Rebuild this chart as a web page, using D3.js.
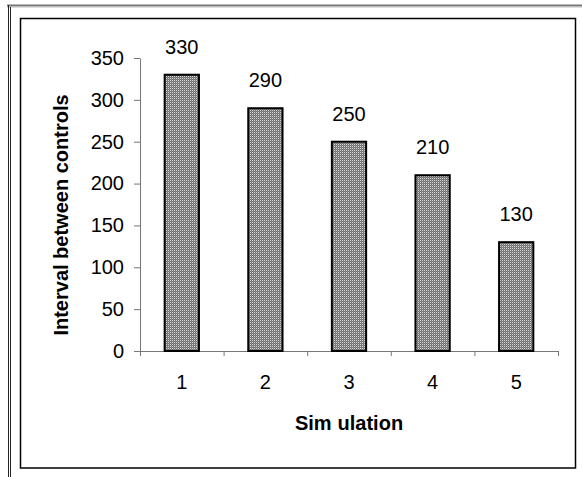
<!DOCTYPE html>
<html>
<head>
<meta charset="utf-8">
<script src="https://cdn.jsdelivr.net/npm/d3@7"></script>
<style>
  body { margin: 0; background: #fff; }
  svg { display: block; font-family: "Liberation Sans", Arial, sans-serif; }
</style>
</head>
<body>
<svg width="582" height="477"></svg>
<script>
let categories = ["1", "2", "3", "4", "5"];
let values = [330, 290, 250, 210, 130];
let yTicks = [0, 50, 100, 150, 200, 250, 300, 350];

let svg = d3.select('svg');
let width = +svg.attr('width');
let height = +svg.attr('height');
let margin = { top: 58, bottom: 126, left: 140, right: 24 };

// outer frame (double lines, like the pasted figure)
svg.append("line").attr("x1", 7).attr("x2", width).attr("y1", 5.5).attr("y2", 5.5)
    .attr("stroke", "#777").attr("stroke-width", 2);
svg.append("line").attr("x1", 7).attr("x2", width).attr("y1", 7).attr("y2", 7)
    .attr("stroke", "#bbb").attr("stroke-width", 1);
svg.append("line").attr("x1", 8.5).attr("x2", 8.5).attr("y1", 5).attr("y2", height)
    .attr("stroke", "#222").attr("stroke-width", 1);
svg.append("line").attr("x1", 10.5).attr("x2", 10.5).attr("y1", 7).attr("y2", height)
    .attr("stroke", "#222").attr("stroke-width", 1);

// chart area box
svg.append("rect").attr("x", 20.5).attr("y", 18.5).attr("width", 555).attr("height", 449.5)
    .attr("fill", "white").attr("stroke", "#000").attr("stroke-width", 1.5);

let defs = svg.append("defs");
let pat = defs.append("pattern")
    .attr("id", "checker")
    .attr("width", 2).attr("height", 2)
    .attr("patternUnits", "userSpaceOnUse");
pat.append("rect").attr("width", 2).attr("height", 2).attr("fill", "#6f6f6f");
pat.append("rect").attr("width", 1).attr("height", 1).attr("fill", "#d8d8d8");
pat.append("rect").attr("x", 1).attr("y", 1).attr("width", 1).attr("height", 1).attr("fill", "#8a8a8a");

let x = d3.scaleBand()
    .domain(categories)
    .range([margin.left, width - margin.right])
    .paddingInner(0.59)
    .paddingOuter(0.295);

let xEdges = d3.scaleLinear()
    .domain([0, categories.length])
    .range([margin.left, width - margin.right]);

let y = d3.scaleLinear()
    .domain([0, 350])
    .range([height - margin.bottom, margin.top]);

// y axis
let yAxis = svg.append("g")
    .attr("transform", `translate(${margin.left},0)`)
    .call(d3.axisLeft(y).tickValues(yTicks).tickSize(6).tickPadding(10).tickSizeOuter(0));
yAxis.selectAll("path, line").attr("stroke", "#777");
yAxis.selectAll("text").attr("font-size", 20).attr("font-family", "Liberation Sans, Arial").attr("fill", "#000");

// x axis: boundary ticks
let xAxis = svg.append("g")
    .attr("transform", `translate(0,${y(0)})`)
    .call(d3.axisBottom(xEdges).tickValues(d3.range(categories.length + 1)).tickFormat("").tickSize(5).tickSizeOuter(0));
xAxis.selectAll("path, line").attr("stroke", "#777");

// x labels
let xLab = svg.append("g")
    .attr("transform", `translate(0,${y(0)})`)
    .call(d3.axisBottom(x).tickSize(0).tickPadding(24));
xLab.select(".domain").remove();
xLab.selectAll("text").attr("font-size", 20).attr("font-family", "Liberation Sans, Arial").attr("fill", "#000");

// bars
svg.append("g")
    .selectAll("rect")
    .data(values)
    .join("rect")
        .attr("x", (d, i) => x(categories[i]))
        .attr("y", d => y(d))
        .attr("width", x.bandwidth())
        .attr("height", d => y(0) - y(d))
        .attr("fill", "url(#checker)")
        .attr("stroke", "#000")
        .attr("stroke-width", 2);

// value labels
svg.append("g")
    .selectAll("text")
    .data(values)
    .join("text")
        .attr("x", (d, i) => x(categories[i]) + x.bandwidth() / 2)
        .attr("y", d => y(d) - 21)
        .attr("text-anchor", "middle")
        .attr("font-size", 20)
        .text(d => d);

// axis titles
let xTitle = svg.append("text")
    .attr("x", (margin.left + width - margin.right) / 2)
    .attr("y", 430)
    .attr("text-anchor", "middle")
    .attr("font-size", 20)
    .attr("font-weight", "bold");
xTitle.append("tspan").text("Sim");
xTitle.append("tspan").attr("dx", 6).text("ulation");

svg.append("text")
    .attr("transform", "translate(68,215) rotate(-90)")
    .attr("text-anchor", "middle")
    .attr("font-size", 20)
    .attr("font-weight", "bold")
    .text("Interval between controls");
</script>
</body>
</html>
